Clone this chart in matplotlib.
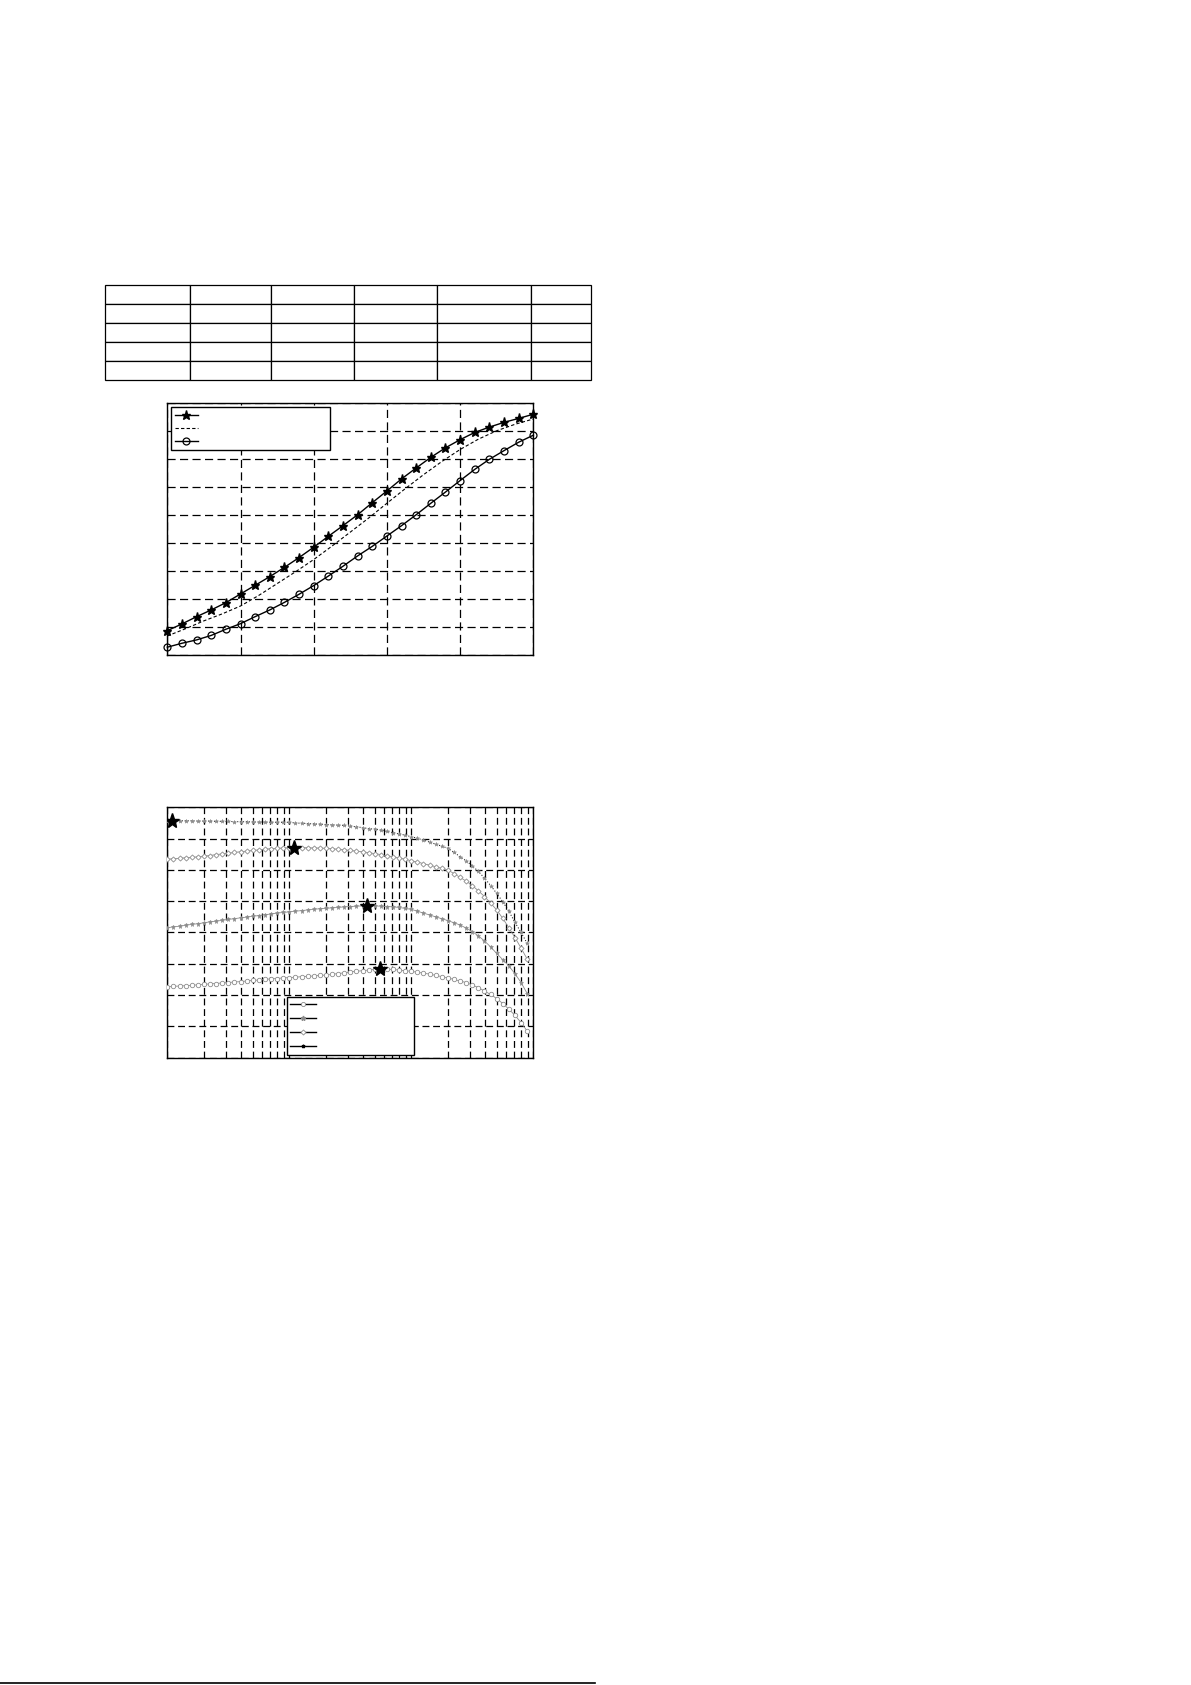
import matplotlib
matplotlib.use("Agg")
import matplotlib.pyplot as plt
from matplotlib.lines import Line2D
import numpy as np

# ---------------- data ----------------
# table (empty cells, 5 rows x 6 columns)
table_rows = 5
table_col_widths = [84, 81, 83, 82.4, 93.6, 60]

# plot 1
p1_x = [0.0, 0.2, 0.4, 0.6, 0.8, 1.0, 1.2, 1.4, 1.6, 1.8, 2.0, 2.2, 2.4, 2.6,
        2.8, 3.0, 3.2, 3.4, 3.6, 3.8, 4.0, 4.2, 4.4, 4.6, 4.8, 5.0]
p1_star = [0.88, 1.12, 1.38, 1.62, 1.88, 2.19, 2.50, 2.81, 3.14, 3.49, 3.86, 4.25, 4.63,
           5.02, 5.45, 5.87, 6.30, 6.69, 7.07, 7.41, 7.70, 7.96, 8.15, 8.32, 8.46, 8.61]
p1_circle = [0.29, 0.43, 0.55, 0.71, 0.93, 1.13, 1.38, 1.62, 1.89, 2.18, 2.49, 2.83, 3.18,
             3.55, 3.89, 4.26, 4.63, 5.02, 5.43, 5.83, 6.24, 6.64, 7.00, 7.31, 7.61, 7.86]
p1_dash_x = [0.0, 0.25, 0.5, 0.75, 1.0, 1.25, 1.5, 1.75, 2.0, 2.25, 2.5, 2.75, 3.0,
             3.25, 3.5, 3.75, 4.0, 4.25, 4.5, 4.75, 5.0]
p1_dash = [0.69, 0.95, 1.23, 1.48, 1.76, 2.14, 2.56, 2.98, 3.42, 3.90, 4.40, 4.90, 5.43,
           5.95, 6.45, 6.92, 7.35, 7.72, 8.02, 8.25, 8.44]

# plot 2 (x in log10 units)
p2_logx = [0.00, 0.05, 0.10, 0.15, 0.20, 0.25, 0.30, 0.35, 0.40, 0.45,
           0.50, 0.55, 0.60, 0.65, 0.70, 0.75, 0.80, 0.85, 0.90, 0.95,
           1.00, 1.05, 1.10, 1.15, 1.20, 1.25, 1.30, 1.35, 1.40, 1.45,
           1.50, 1.55, 1.60, 1.65, 1.70, 1.75, 1.80, 1.85, 1.90, 1.95,
           2.00, 2.05, 2.10, 2.15, 2.20, 2.25, 2.30, 2.35, 2.40, 2.45,
           2.50, 2.55, 2.60, 2.65, 2.70, 2.75, 2.80, 2.85, 2.90, 2.95]
p2_top = [7.57, 7.57, 7.57, 7.57, 7.57, 7.56, 7.56, 7.56, 7.55, 7.55,
          7.55, 7.54, 7.54, 7.54, 7.53, 7.53, 7.53, 7.52, 7.52, 7.52,
          7.52, 7.50, 7.49, 7.48, 7.47, 7.46, 7.45, 7.44, 7.43, 7.42,
          7.40, 7.38, 7.35, 7.32, 7.30, 7.27, 7.23, 7.19, 7.15, 7.11,
          7.06, 7.01, 6.95, 6.89, 6.82, 6.76, 6.69, 6.56, 6.42, 6.29,
          6.13, 5.95, 5.74, 5.50, 5.25, 4.98, 4.68, 4.32, 4.00, 3.65]
p2_diamond = [6.34, 6.36, 6.37, 6.39, 6.40, 6.42, 6.44, 6.46, 6.49, 6.51,
              6.53, 6.56, 6.58, 6.60, 6.62, 6.64, 6.66, 6.68, 6.69, 6.70,
              6.71, 6.71, 6.71, 6.71, 6.70, 6.70, 6.69, 6.68, 6.66, 6.64,
              6.62, 6.60, 6.58, 6.55, 6.52, 6.49, 6.45, 6.42, 6.38, 6.34,
              6.29, 6.25, 6.20, 6.15, 6.10, 6.05, 6.00, 5.88, 5.76, 5.64,
              5.50, 5.33, 5.15, 4.94, 4.72, 4.45, 4.15, 3.84, 3.50, 3.15]
p2_star = [4.15, 4.18, 4.20, 4.23, 4.26, 4.28, 4.31, 4.34, 4.36, 4.39,
           4.42, 4.44, 4.47, 4.49, 4.52, 4.54, 4.57, 4.59, 4.62, 4.64,
           4.66, 4.68, 4.70, 4.72, 4.74, 4.76, 4.77, 4.79, 4.80, 4.82,
           4.83, 4.84, 4.85, 4.85, 4.85, 4.84, 4.83, 4.82, 4.80, 4.77,
           4.74, 4.68, 4.62, 4.56, 4.50, 4.44, 4.38, 4.31, 4.24, 4.14,
           4.03, 3.89, 3.73, 3.54, 3.33, 3.13, 2.93, 2.68, 2.40, 2.05]
p2_circle = [2.27, 2.28, 2.29, 2.30, 2.31, 2.33, 2.34, 2.36, 2.37, 2.39,
             2.40, 2.42, 2.43, 2.45, 2.47, 2.48, 2.50, 2.52, 2.53, 2.55,
             2.56, 2.57, 2.59, 2.60, 2.61, 2.63, 2.64, 2.66, 2.69, 2.71,
             2.74, 2.76, 2.78, 2.80, 2.82, 2.84, 2.83, 2.82, 2.80, 2.78,
             2.76, 2.73, 2.70, 2.67, 2.63, 2.59, 2.55, 2.50, 2.45, 2.40,
             2.32, 2.24, 2.13, 2.02, 1.89, 1.73, 1.55, 1.35, 1.12, 0.85]
p2_peak_x = [1.1, 10.9, 43.6, 55.4]
p2_peak_y = [7.57, 6.71, 4.85, 2.84]

# ---------------- figure ----------------
W, H = 1191, 1685
fig = plt.figure(figsize=(W / 100, H / 100), dpi=100)
fig.patch.set_facecolor("white")


def fig_rect(left, top, right, bottom):
    return [left / W, 1 - bottom / H, (right - left) / W, (bottom - top) / H]


# ---- table ----
tab_left, tab_top, tab_right, tab_bottom = 105.3, 285.0, 591.0, 380.0
tax = fig.add_axes(fig_rect(tab_left, tab_top, tab_right, tab_bottom))
tax.axis("off")
tot = sum(table_col_widths)
cw = [w / tot for w in table_col_widths]
tbl = tax.table(cellText=[[""] * len(cw) for _ in range(table_rows)],
                colWidths=cw, bbox=[0, 0, 1, 1])
for cell in tbl.get_celld().values():
    cell.set_linewidth(0.9)
    cell.set_edgecolor("black")

# ---- plot 1 ----
ax1 = fig.add_axes(fig_rect(167.3, 403.3, 533.3, 655.3))
ax1.set_xlim(0, 5)
ax1.set_ylim(0, 9)
ax1.set_xticks([0, 1, 2, 3, 4, 5])
ax1.set_yticks(list(range(10)))
ax1.grid(True, color="black", linestyle=(0, (6.5, 3.5)), linewidth=0.9)
ax1.set_axisbelow(True)
ax1.tick_params(length=0, labelbottom=False, labelleft=False)
for s in ax1.spines.values():
    s.set_linewidth(1.0)

ax1.plot(p1_x, p1_star, color="black", lw=1.0, marker="*", ms=6.5,
         markerfacecolor="black", markeredgecolor="black", clip_on=False, zorder=3)
ax1.plot(p1_dash_x, p1_dash, color="black", lw=0.8, linestyle=(0, (3, 2)), zorder=3)
ax1.plot(p1_x, p1_circle, color="black", lw=1.0, marker="o", ms=5,
         markerfacecolor="none", markeredgecolor="black", markeredgewidth=0.9,
         clip_on=False, zorder=3)

h1 = [Line2D([], [], color="black", lw=1.0, marker="*", ms=6.5),
      Line2D([], [], color="black", lw=0.8, linestyle=(0, (3, 2))),
      Line2D([], [], color="black", lw=1.0, marker="o", ms=5,
             markerfacecolor="none", markeredgewidth=0.9)]
leg1 = ax1.legend(h1, ["", "", ""], loc="upper left",
                  bbox_to_anchor=(0.011, 0.0, 0.434, 0.984), mode="expand",
                  borderaxespad=0, fontsize=7, labelspacing=0.3,
                  handlelength=2.4, borderpad=0.35, fancybox=False,
                  framealpha=1, edgecolor="black")
leg1.get_frame().set_linewidth(1.0)

# ---- plot 2 ----
ax2 = fig.add_axes(fig_rect(167.3, 807.3, 533.3, 1057.7))
ax2.set_xscale("log")
ax2.set_xlim(1, 1000)
ax2.set_ylim(0, 8)
ax2.set_yticks(list(range(9)))
ax2.grid(True, which="both", color="black", linestyle=(0, (5.5, 3.0)), linewidth=0.9)
ax2.set_axisbelow(True)
ax2.tick_params(which="both", length=0, labelbottom=False, labelleft=False)
for s in ax2.spines.values():
    s.set_linewidth(1.0)

p2_x = [10 ** v for v in p2_logx]
gray = "#8c8c8c"
ax2.plot(p2_x, p2_top, color="black", lw=0.7, linestyle=(0, (1, 2)), marker="*",
         ms=3, markerfacecolor=gray, markeredgecolor=gray, markeredgewidth=0.4, zorder=3)
ax2.plot(p2_x, p2_diamond, color=gray, lw=0.6, marker="D", ms=2.6,
         markerfacecolor="white", markeredgecolor=gray, markeredgewidth=0.6, zorder=3)
ax2.plot(p2_x, p2_star, color=gray, lw=0.6, marker="*", ms=3.6,
         markerfacecolor=gray, markeredgecolor=gray, markeredgewidth=0.4, zorder=3)
ax2.plot(p2_x, p2_circle, color=gray, lw=0.6, marker="o", ms=3.2,
         markerfacecolor="white", markeredgecolor=gray, markeredgewidth=0.6, zorder=3)
ax2.plot(p2_peak_x, p2_peak_y, linestyle="none", marker="*", ms=11,
         color="black", zorder=4)

h2 = [Line2D([], [], color="black", lw=1.0, marker="o", ms=3,
             markerfacecolor="white", markeredgecolor=gray, markeredgewidth=0.6),
      Line2D([], [], color="black", lw=1.0, marker="*", ms=3.5,
             markerfacecolor=gray, markeredgecolor=gray),
      Line2D([], [], color="black", lw=1.0, marker="D", ms=2.6,
             markerfacecolor="white", markeredgecolor=gray, markeredgewidth=0.6),
      Line2D([], [], color="black", lw=1.0, marker="*", ms=2.5,
             markerfacecolor="black", markeredgecolor="black")]
leg2 = ax2.legend(h2, ["", "", "", ""], loc="upper left",
                  bbox_to_anchor=(0.328, 0.0, 0.347, 0.2436), mode="expand",
                  borderaxespad=0, fontsize=7, labelspacing=0.42,
                  handlelength=2.6, borderpad=0.3, handletextpad=0.2,
                  fancybox=False, framealpha=1, edgecolor="black")
leg2.get_frame().set_linewidth(1.0)

# ---- footnote rule at the bottom of the page ----
fig.add_artist(Line2D([0.0, 595 / W], [1 - 1683 / H, 1 - 1683 / H],
                      color="black", lw=1.2, transform=fig.transFigure))

fig.savefig("out.png", dpi=100, facecolor="white")
